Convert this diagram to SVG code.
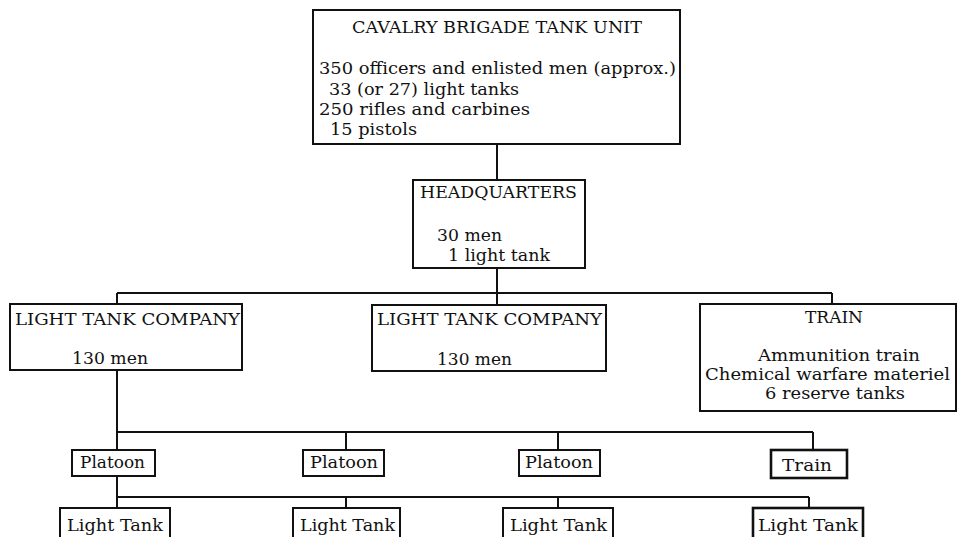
<svg xmlns="http://www.w3.org/2000/svg" width="958" height="537" viewBox="0 0 958 537">
<style>
.box{fill:#fff;stroke:#111;stroke-width:2}
.bold{stroke-width:2.6}
.ln{stroke:#111;stroke-width:2;fill:none}
text{font-family:"DejaVu Serif","Liberation Serif",serif;font-size:17px;fill:#111}
</style>
<rect width="958" height="537" fill="#fff"/>
<g id="connectors">
<path class="ln" d="M497 144V180M497 268V293M117 293H832M117 293V304M497 293V305M832 293V304M117 370V450M117 476V508M117 432H813M346 432V450M558 432V450M813 432V450M117 497H809M346 497V508M558 497V508M809 497V508"/>
</g>
<g id="unit">
<rect class="box" x="313" y="10" width="367" height="134"/>
<text x="352" y="33" textLength="290" lengthAdjust="spacingAndGlyphs">CAVALRY BRIGADE TANK UNIT</text>
<text x="319" y="74" textLength="357" lengthAdjust="spacingAndGlyphs">350 officers and enlisted men (approx.)</text>
<text x="329" y="95" textLength="190" lengthAdjust="spacingAndGlyphs">33 (or 27) light tanks</text>
<text x="319" y="115" textLength="211" lengthAdjust="spacingAndGlyphs">250 rifles and carbines</text>
<text x="330" y="135" textLength="87" lengthAdjust="spacingAndGlyphs">15 pistols</text>
</g>
<g id="hq">
<rect class="box" x="413" y="180" width="172" height="88"/>
<text x="420" y="198" textLength="157" lengthAdjust="spacingAndGlyphs">HEADQUARTERS</text>
<text x="437" y="241" textLength="65" lengthAdjust="spacingAndGlyphs">30 men</text>
<text x="448" y="261" textLength="102" lengthAdjust="spacingAndGlyphs">1 light tank</text>
</g>
<g id="company1">
<rect class="box" x="10" y="304" width="232" height="66"/>
<text x="15" y="325" textLength="225" lengthAdjust="spacingAndGlyphs">LIGHT TANK COMPANY</text>
<text x="72" y="364" textLength="76" lengthAdjust="spacingAndGlyphs">130 men</text>
</g>
<g id="company2">
<rect class="box" x="372" y="305" width="234" height="66"/>
<text x="377" y="325" textLength="225" lengthAdjust="spacingAndGlyphs">LIGHT TANK COMPANY</text>
<text x="437" y="365" textLength="75" lengthAdjust="spacingAndGlyphs">130 men</text>
</g>
<g id="train">
<rect class="box" x="700" y="304" width="256" height="107"/>
<text x="805" y="323" textLength="58" lengthAdjust="spacingAndGlyphs">TRAIN</text>
<text x="758" y="361" textLength="162" lengthAdjust="spacingAndGlyphs">Ammunition train</text>
<text x="705" y="380" textLength="245" lengthAdjust="spacingAndGlyphs">Chemical warfare materiel</text>
<text x="765" y="399" textLength="140" lengthAdjust="spacingAndGlyphs">6 reserve tanks</text>
</g>
<g id="platoon1">
<rect class="box" x="72" y="450" width="83" height="26"/>
<text x="80" y="468" textLength="65" lengthAdjust="spacingAndGlyphs">Platoon</text>
</g>
<g id="platoon2">
<rect class="box" x="303" y="450" width="81" height="26"/>
<text x="310" y="468" textLength="68" lengthAdjust="spacingAndGlyphs">Platoon</text>
</g>
<g id="platoon3">
<rect class="box" x="519" y="450" width="81" height="26"/>
<text x="525" y="468" textLength="68" lengthAdjust="spacingAndGlyphs">Platoon</text>
</g>
<g id="train-small">
<rect class="box bold" x="771" y="450" width="76" height="28"/>
<text x="782" y="471" textLength="50" lengthAdjust="spacingAndGlyphs">Train</text>
</g>
<g id="tank1">
<rect class="box" x="60" y="508" width="110" height="40"/>
<text x="67" y="531" textLength="96" lengthAdjust="spacingAndGlyphs">Light Tank</text>
</g>
<g id="tank2">
<rect class="box" x="293" y="508" width="107" height="40"/>
<text x="300" y="531" textLength="95" lengthAdjust="spacingAndGlyphs">Light Tank</text>
</g>
<g id="tank3">
<rect class="box" x="503" y="508" width="110" height="40"/>
<text x="510" y="531" textLength="97" lengthAdjust="spacingAndGlyphs">Light Tank</text>
</g>
<g id="tank4">
<rect class="box bold" x="753" y="508" width="110" height="40"/>
<text x="758" y="531" textLength="100" lengthAdjust="spacingAndGlyphs">Light Tank</text>
</g>
</svg>
